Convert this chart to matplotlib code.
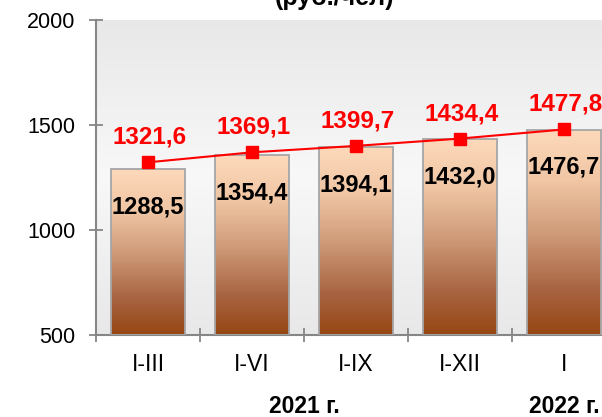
import numpy as np
import matplotlib
matplotlib.use("Agg")
import matplotlib.pyplot as plt
from matplotlib.colors import LinearSegmentedColormap
from matplotlib.patches import Rectangle

# Data
periods = ["I-III", "I-VI", "I-IX", "I-XII", "I"]
bar_values = [1288.5, 1354.4, 1394.1, 1432.0, 1476.7]
line_values = [1321.6, 1369.1, 1399.7, 1434.4, 1477.8]
year_labels = ["2021 г.", "2022 г."]
y_ticks = [500, 1000, 1500, 2000]

plt.rcParams["font.family"] = ["Liberation Sans", "DejaVu Sans"]

fig = plt.figure(figsize=(6.02, 4.17), dpi=100)
ax = fig.add_axes([96 / 602, 1 - 335.3 / 417, 520 / 602, (335.3 - 19.5) / 417])

ymin, ymax = 500, 2000
x = np.arange(len(periods))
bar_w = 0.71

# Plot-area background: soft grey-white-grey vertical gradient
bg_cmap = LinearSegmentedColormap.from_list(
    "bg", [(0.0, "#e8e8e8"), (0.5, "#f8f8f8"), (1.0, "#e8e8e8")])
bg = np.linspace(0, 1, 256).reshape(-1, 1)
ax.imshow(bg, cmap=bg_cmap, extent=(0, 1, 0, 1), transform=ax.transAxes,
          aspect="auto", zorder=0, origin="lower")

# Bars with peach-to-brown gradient
bar_cmap = LinearSegmentedColormap.from_list(
    "bar", [(0.0, (150 / 255, 70 / 255, 18 / 255)),
            (0.22, (168 / 255, 100 / 255, 66 / 255)),
            (0.5, (208 / 255, 156 / 255, 122 / 255)),
            (0.75, (240 / 255, 198 / 255, 164 / 255)),
            (1.0, (253 / 255, 217 / 255, 187 / 255))])
grad = np.linspace(0, 1, 256).reshape(-1, 1)
bars = ax.bar(x, np.array(bar_values) - ymin, bottom=ymin, width=bar_w,
              color="none", edgecolor="#a6a6a6", linewidth=1.3, zorder=3)
for rect, val in zip(bars, bar_values):
    x0 = rect.get_x()
    im = ax.imshow(grad, cmap=bar_cmap, origin="lower", aspect="auto",
                   extent=(x0, x0 + rect.get_width(), ymin, val), zorder=2)
    clip = Rectangle((x0, ymin), rect.get_width(), val - ymin,
                     transform=ax.transData)
    im.set_clip_path(clip)

# Values inside bars
for xi, val in zip(x, bar_values):
    ax.annotate(f"{val:.1f}".replace(".", ","), (xi, val),
                xytext=(0, -27), textcoords="offset points",
                ha="center", va="center", fontsize=17, fontweight="bold",
                color="black", zorder=6)

# Red line with square markers
ax.plot(x, line_values, color="#ff0000", linewidth=1.5, marker="s",
        markersize=8, zorder=5)
for xi, val in zip(x, line_values):
    ax.annotate(f"{val:.1f}".replace(".", ","), (xi, val),
                xytext=(1, 18), textcoords="offset points",
                ha="center", va="center", fontsize=17.5, fontweight="bold",
                color="#ff0000", zorder=6)

ax.set_xlim(-0.5, len(periods) - 0.5)
ax.set_ylim(ymin, ymax)

# Axes styling
for side in ("top", "right"):
    ax.spines[side].set_visible(False)
for side in ("left", "bottom"):
    ax.spines[side].set_color("#868686")
    ax.spines[side].set_linewidth(1.5)

ax.set_yticks(y_ticks)
ax.set_yticklabels([str(t) for t in y_ticks])
ax.set_xticks(np.arange(len(periods) + 1) - 0.5)
ax.set_xticklabels([])
ax.set_xticks(x, minor=True)
ax.set_xticklabels(periods, minor=True)
ax.tick_params(axis="x", which="major", direction="inout", length=10,
               width=1.3, color="#868686")
ax.tick_params(axis="x", which="minor", length=0, pad=13, labelsize=16.5)
ax.tick_params(axis="y", direction="inout", length=10, width=1.3,
               color="#868686", pad=10, labelsize=15.5)

# Year captions under the periods
ax.text(1.5, -0.225, year_labels[0], transform=ax.get_xaxis_transform(),
        ha="center", va="center", fontsize=16.5, fontweight="bold")
ax.text(4.0, -0.225, year_labels[1], transform=ax.get_xaxis_transform(),
        ha="center", va="center", fontsize=16.5, fontweight="bold")

# Units line of the title
fig.text(335 / 602, 1 - 5 / 417, "(руб./чел)", ha="center",
         va="baseline", fontsize=18, fontweight="bold")

fig.savefig("out.png", dpi=100)
